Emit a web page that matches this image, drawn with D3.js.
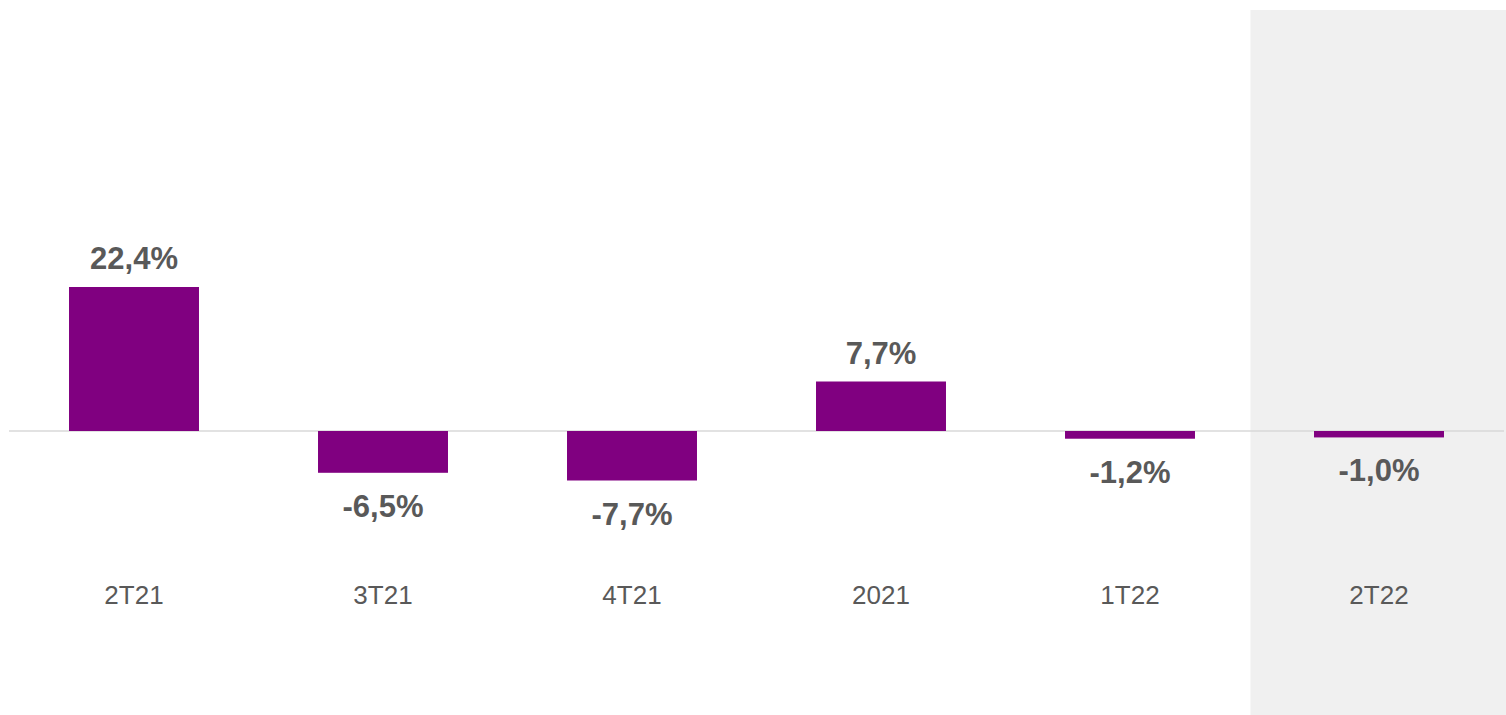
<!DOCTYPE html>
<html>
<head>
<meta charset="utf-8">
<script src="https://cdn.jsdelivr.net/npm/d3@7"></script>
<style>
	html, body { margin: 0; padding: 0; background: #ffffff; }
	svg { display: block; font-family: "Liberation Sans", Arial, sans-serif; }
</style>
</head>
<body>
<div id="chart"></div>
<script>
// ---------- DATA ----------
const periods = ["2T21", "3T21", "4T21", "2021", "1T22", "2T22"];
const values = [22.4, -6.5, -7.7, 7.7, -1.2, -1.0];
const highlighted = ["2T22"];

const width = 1506;
const height = 715;

const svg = d3
	.select("#chart")
	.append("svg")
	.attr("width", width)
	.attr("height", height);

const data = periods.map((p, i) => ({ period: p, value: values[i] }));

const x = d3
	.scaleBand()
	.domain(periods)
	.range([9.5, 1503.5])
	.paddingInner(0.478)
	.paddingOuter(0.239);

// zero at 431, 22.4% at 287
const y = d3.scaleLinear().domain([-10, 30]).range([495.29, 238.14]);

const fmt = (v) => d3.format(".1f")(v).replace(".", ",").replace("−", "-") + "%";

// shaded background for current period
svg.selectAll("rect.shade")
	.data(highlighted)
	.enter()
	.append("rect")
	.classed("shade", true)
	.attr("x", (d) => x(d) - (x.step() - x.bandwidth()) / 2 - 4)
	.attr("y", 10)
	.attr("width", width - (x(highlighted[0]) - (x.step() - x.bandwidth()) / 2 - 4))
	.attr("height", height - 10)
	.attr("fill", "#f0f0f0");

// zero line
svg.append("line")
	.attr("x1", 9)
	.attr("x2", 1504)
	.attr("y1", y(0))
	.attr("y2", y(0))
	.attr("stroke", "#d9d9d9")
	.attr("stroke-width", 1.5);

// bars
svg.selectAll("rect.bar")
	.data(data)
	.enter()
	.append("rect")
	.classed("bar", true)
	.attr("x", (d) => x(d.period))
	.attr("width", x.bandwidth())
	.attr("y", (d) => y(Math.max(0, d.value)))
	.attr("height", (d) => Math.abs(y(d.value) - y(0)))
	.attr("fill", "#800080");

// value labels
svg.selectAll("text.value")
	.data(data)
	.enter()
	.append("text")
	.classed("value", true)
	.attr("x", (d) => x(d.period) + x.bandwidth() / 2)
	.attr("y", (d) => (d.value >= 0 ? y(d.value) - 18 : y(d.value) + 44))
	.attr("text-anchor", "middle")
	.attr("font-size", 31)
	.attr("font-weight", "bold")
	.attr("fill", "#595959")
	.text((d) => fmt(d.value));

// category labels
svg.selectAll("text.cat")
	.data(periods)
	.enter()
	.append("text")
	.classed("cat", true)
	.attr("x", (d) => x(d) + x.bandwidth() / 2)
	.attr("y", 604)
	.attr("text-anchor", "middle")
	.attr("font-size", 26)
	.attr("fill", "#595959")
	.text((d) => d);
</script>
</body>
</html>
